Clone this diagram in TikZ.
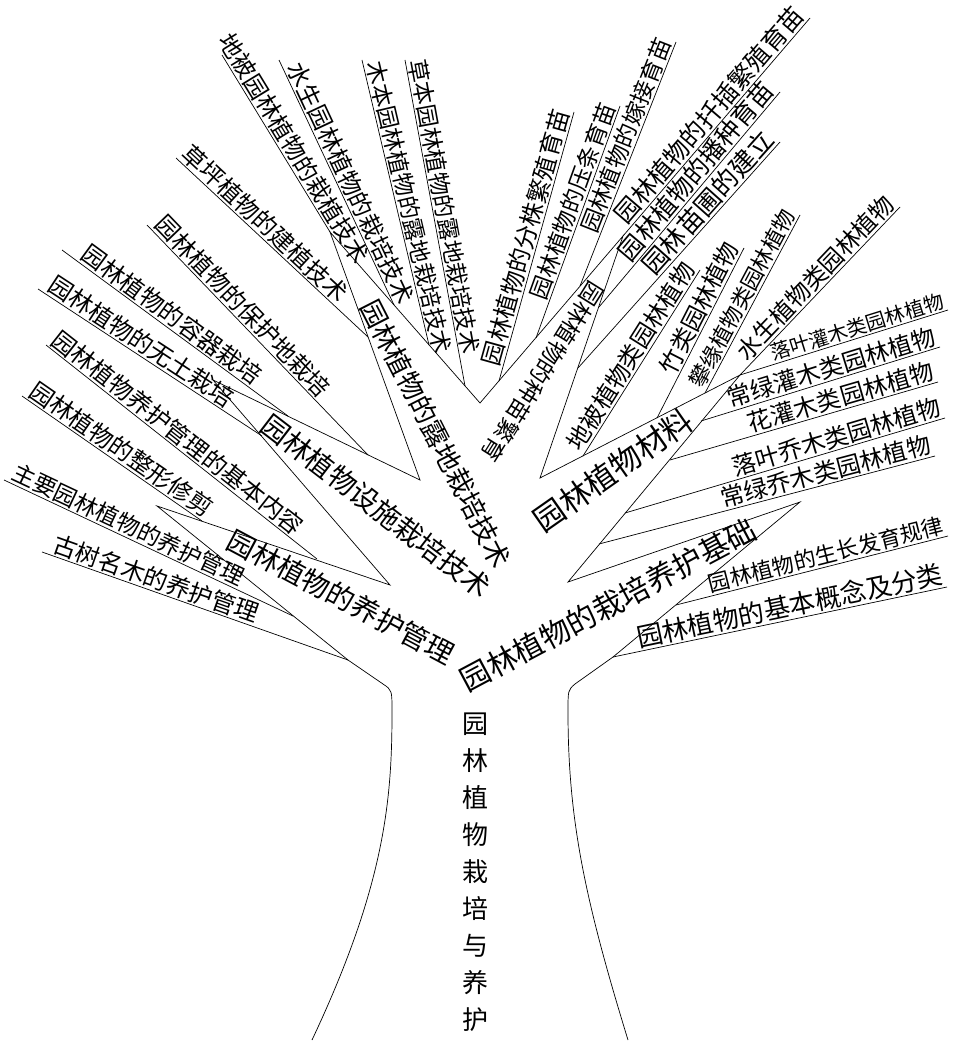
\documentclass[tikz,border=0pt]{standalone}
\usepackage{fontspec}
\newfontfamily\cjk{Noto Sans CJK SC}
\usepackage{tikz}

\begin{document}
\begin{tikzpicture}[x=1pt,y=-1pt,line width=0.7pt,
    leaf/.style={font=\cjk\fontsize{24}{24}\selectfont,inner sep=1.5pt,sloped},
    bough/.style={font=\cjk\fontsize{28}{28}\selectfont,inner sep=0pt}]
    \useasboundingbox (0,0) rectangle (958,1043);
    \coordinate (t1) at (348,660);
    \coordinate (v1) at (157,506);
    \coordinate (c1) at (390,585);
    \coordinate (v2) at (213,380);
    \coordinate (c2) at (420,480);
    \coordinate (v3) at (330,232);
    \coordinate (c3) at (480,403);
    \coordinate (v4) at (623,236);
    \coordinate (c4) at (540,478);
    \coordinate (v5) at (740,375);
    \coordinate (c5) at (568,582);
    \coordinate (v6) at (800,502);
    \coordinate (t2) at (613,657);
    \coordinate (l1) at (383,684);
    \coordinate (l2) at (392,712);
    \coordinate (l3) at (312,1040);
    \coordinate (r1) at (575,684);
    \coordinate (r2) at (568,712);
    \coordinate (r3) at (628,1040);
    \draw (t1) -- (v1) -- (c1) -- (v2) -- (c2) -- (v3) -- (c3) -- (v4) -- (c4) -- (v5) -- (c5) -- (v6) -- (t2);
    \draw (t1) -- (l1) .. controls (392,690) .. (l2) .. controls (392,800) and (385,885) .. (l3);
    \draw (t2) -- (r1) .. controls (568,690) .. (r2) .. controls (568,820) and (585,900) .. (r3);
    \node [font=\cjk\fontsize{26}{37}\selectfont,align=center] (z) at (475,872) {园\\林\\植\\物\\栽\\培\\与\\养\\护};
    \node [bough,rotate=-28] (a) at (341,597) {园林植物的养护管理};
    \node [bough,rotate=-37.5] (b) at (376,506) {园林植物设施栽培技术};
    \node [bough,font=\cjk\fontsize{27}{27}\selectfont,rotate=-63] (c) at (436,434) {园林植物的露地栽培技术};
    \node [bough,font=\cjk\fontsize{23}{23}\selectfont,rotate=238] (d) at (543,372) {园林植物的种苗繁育};
    \node [bough,font=\cjk\fontsize{31}{31}\selectfont,rotate=35] (e) at (613,470) {园林植物材料};
    \node [bough,font=\cjk\fontsize{30}{30}\selectfont,rotate=28] (f) at (608,605) {园林植物的栽培养护基础};
    \coordinate (s1) at (22,396);
    \coordinate (j1) at (202,521);
    \coordinate (s2) at (46,345);
    \coordinate (j2) at (317,559);
    \coordinate (s3) at (4,480);
    \coordinate (j3) at (293,616);
    \coordinate (s4) at (42,552);
    \coordinate (s5) at (38,289);
    \coordinate (j5) at (262,436);
    \coordinate (s6) at (62,250);
    \coordinate (j6) at (288,416);
    \coordinate (s7) at (147,225);
    \coordinate (j7) at (368,455);
    \coordinate (s8) at (176,158);
    \coordinate (j8) at (368,337);
    \coordinate (s9) at (222,55);
    \coordinate (s10) at (279,60);
    \coordinate (j10) at (394,305);
    \coordinate (s11) at (362,60);
    \coordinate (j11) at (429,345);
    \coordinate (s12) at (405,60);
    \coordinate (j12) at (465,386);
    \draw (s1) -- node [leaf,pos=0.01,anchor=south west] (a1) {园林植物的整形修剪} (j1);
    \draw (s2) -- node [leaf,pos=0,anchor=south west] (a2) {园林植物养护管理的基本内容} (j2);
    \draw (s3) -- node [leaf,font=\cjk\fontsize{23}{23}\selectfont,pos=0.01,anchor=south west] (a3) {主要园林植物的养护管理} (j3);
    \draw (s4) -- node [leaf,pos=0.02,anchor=south west] (a4) {古树名木的养护管理} (t1);
    \draw (s5) -- node [leaf,pos=0.02,anchor=south west] (b1) {园林植物的无土栽培} (j5);
    \draw (s6) -- node [leaf,pos=0.06,anchor=south west] (b2) {园林植物的容器栽培} (j6);
    \draw (s7) -- node [leaf,pos=0.01,anchor=south west] (b3) {园林植物的保护地栽培} (j7);
    \draw (s8) -- node [leaf,pos=0,anchor=south west] (c1x) {草坪植物的建植技术} (j8);
    \draw (s9) -- node [leaf,pos=-0.08,anchor=south west] (c2x) {地被园林植物的栽植技术} (v3);
    \draw (s10) -- node [leaf,pos=0.03,anchor=south west] (c3x) {水生园林植物的栽培技术} (j10);
    \draw (s11) -- node [leaf,font=\cjk\fontsize{23}{23}\selectfont,pos=0.01,anchor=south west] (c4x) {木本园林植物的露地栽培技术} (j11);
    \draw (s12) -- node [leaf,font=\cjk\fontsize{23}{23}\selectfont,pos=0,anchor=south west] (c5x) {草本园林植物的露地栽培技术} (j12);
    \coordinate (j13) at (499,381);
    \coordinate (s13) at (574,112);
    \coordinate (j14) at (536,338);
    \coordinate (s14) at (620,106);
    \coordinate (j15) at (580,286);
    \coordinate (s15) at (676,42);
    \coordinate (s16) at (810,18);
    \coordinate (j17) at (599,307);
    \coordinate (s17) at (780,92);
    \coordinate (j18) at (578,368);
    \coordinate (s18) at (780,142);
    \draw (j13) -- node [leaf,pos=1,anchor=south east] (d1) {园林植物的分株繁殖育苗} (s13);
    \draw (j14) -- node [leaf,font=\cjk\fontsize{23}{23}\selectfont,pos=1,anchor=south east] (d2) {园林植物的压条育苗} (s14);
    \draw (j15) -- node [leaf,font=\cjk\fontsize{23}{23}\selectfont,pos=1,anchor=south east] (d3) {园林植物的嫁接育苗} (s15);
    \draw (v4) -- node [leaf,font=\cjk\fontsize{25}{25}\selectfont,pos=1,anchor=south east] (d4) {园林植物的扦插繁殖育苗} (s16);
    \draw (j17) -- node [leaf,font=\cjk\fontsize{25}{25}\selectfont,pos=1,anchor=south east] (d5) {园林植物的播种育苗} (s17);
    \draw (j18) -- node [leaf,font=\cjk\fontsize{26}{26}\selectfont,pos=1,anchor=south east] (d6) {园林苗圃的建立} (s18);
    \coordinate (j19) at (583,456);
    \coordinate (s19) at (700,270);
    \coordinate (j20) at (657,418);
    \coordinate (s20) at (744,248);
    \coordinate (j21) at (705,393);
    \coordinate (s21) at (800,215);
    \coordinate (s22) at (900,207);
    \coordinate (s23) at (948,310);
    \coordinate (j24) at (701,421);
    \coordinate (s24) at (940,347);
    \coordinate (j25) at (670,460);
    \coordinate (s25) at (938,382);
    \coordinate (j26) at (625,513);
    \coordinate (s26) at (945,418);
    \coordinate (j27) at (599,544);
    \coordinate (s27) at (935,456);
    \draw (j19) -- node [leaf,pos=1,anchor=south east] (e1) {地被植物类园林植物} (s19);
    \draw (j20) -- node [leaf,pos=1,anchor=south east] (e2) {竹类园林植物} (s20);
    \draw (j21) -- node [leaf,font=\cjk\fontsize{22}{22}\selectfont,pos=1,anchor=south east] (e3) {攀缘植物类园林植物} (s21);
    \draw (v5) -- node [leaf,pos=1,anchor=south east] (e4) {水生植物类园林植物} (s22);
    \draw (v5) -- node [leaf,font=\cjk\fontsize{20}{20}\selectfont,pos=1,anchor=south east] (e5) {落叶灌木类园林植物} (s23);
    \draw (j24) -- node [leaf,pos=1,anchor=south east] (e6) {常绿灌木类园林植物} (s24);
    \draw (j25) -- node [leaf,pos=1,anchor=south east] (e7) {花灌木类园林植物} (s25);
    \draw (j26) -- node [leaf,pos=1,anchor=south east] (e8) {落叶乔木类园林植物} (s26);
    \draw (j27) -- node [leaf,pos=1,anchor=south east] (e9) {常绿乔木类园林植物} (s27);
    \coordinate (j28) at (676,605);
    \coordinate (s28) at (948,536);
    \coordinate (s29) at (947,587);
    \draw (j28) -- node [leaf,font=\cjk\fontsize{22}{22}\selectfont,pos=1,anchor=south east] (f1) {园林植物的生长发育规律} (s28);
    \draw (t2) -- node [leaf,font=\cjk\fontsize{26}{26}\selectfont,pos=1,anchor=south east] (f2) {园林植物的基本概念及分类} (s29);
\end{tikzpicture}
\end{document}
